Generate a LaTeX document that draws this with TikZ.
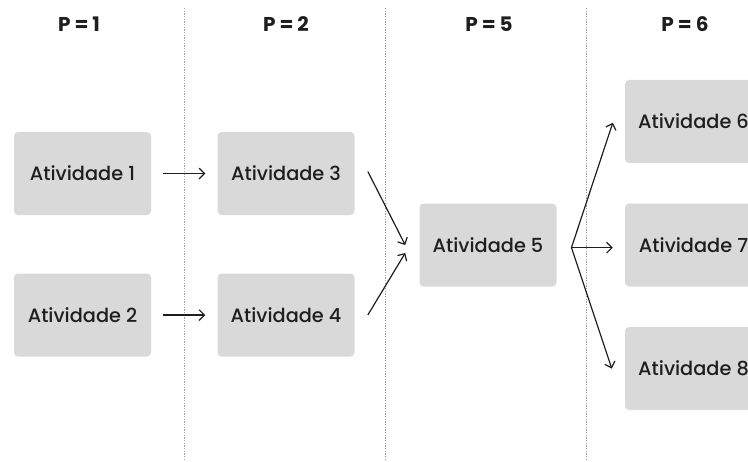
\documentclass[tikz,border=0pt]{standalone}
\usepackage{fontspec}
\setmainfont{Poppins}[UprightFont=* Medium, BoldFont=* Bold]
\usetikzlibrary{arrows.meta,positioning}
\definecolor{boxgray}{HTML}{D9D9D9}
\definecolor{inkgray}{HTML}{1E1E1E}

\begin{document}
\begin{tikzpicture}[
    x=0.75pt, y=-0.75pt,
    % Box styles
    activity/.style={rectangle, rounded corners=3pt, fill=boxgray, inner sep=0pt,
        minimum width=102.75pt, minimum height=62.25pt, text centered,
        text=inkgray, font=\fontsize{14.5}{16}\selectfont},
    phase/.style={text=inkgray, font=\fontsize{15}{17}\selectfont\bfseries},
    % Line styles
    arrow/.style={-{Straight Barb[length=4pt,width=8pt]}, line width=0.9pt, color=inkgray},
    divider/.style={gray!75, line width=0.5pt, dash pattern=on 1pt off 1pt}
]
    \useasboundingbox (0,0) rectangle (748,461);
    \clip (0,0) rectangle (748,461);

    % Phase dividers
    \foreach \x in {184,385,586}
        \draw[divider] (\x,8) -- (\x,461);

    % Phase headers
    \node[phase] (p1) at (79,24) {P\hspace{3pt}=\hspace{3pt}1};
    \node[phase] (p2) at (286,24) {P\hspace{3pt}=\hspace{3pt}2};
    \node[phase] (p5) at (489,24) {P\hspace{3pt}=\hspace{3pt}5};
    \node[phase] (p6) at (685,24) {P\hspace{3pt}=\hspace{3pt}6};

    % Activities
    \node[activity] (a1) at (82.5,173.5) {Atividade 1};
    \node[activity, right=49.5pt of a1] (a3) {Atividade 3};
    \node[activity, below=43.5pt of a1] (a2) {Atividade 2};
    \node[activity, right=49.5pt of a2] (a4) {Atividade 4};
    \node[activity] (a5) at (488,245) {Atividade 5};
    \node[activity, right=51pt of a5] (a7) {Atividade 7};
    \node[activity, above=30pt of a7] (a6) {Atividade 6};
    \node[activity, below=30pt of a7] (a8) {Atividade 8};

    % Dependencies
    \draw[arrow] ([xshift=9pt]a1.east) -- ([xshift=-9pt]a3.west);
    \draw[arrow] ([xshift=9pt]a2.east) -- ([xshift=-9pt]a4.west);
    \draw[arrow] ([xshift=9.75pt,yshift=1.5pt]a3.east) -- ([xshift=-10.5pt]a5.west);
    \draw[arrow] ([xshift=9.75pt]a4.east) -- ([xshift=-10.5pt,yshift=-6pt]a5.west);
    \draw[arrow] ([xshift=11pt,yshift=-2pt]a5.east) -- ([xshift=-9pt,yshift=-1pt]a6.west);
    \draw[arrow] ([xshift=11pt,yshift=-2pt]a5.east) -- ([xshift=-9pt,yshift=-2pt]a7.west);
    \draw[arrow] ([xshift=11pt,yshift=-2pt]a5.east) -- ([xshift=-9.75pt]a8.west);
\end{tikzpicture}
\end{document}
